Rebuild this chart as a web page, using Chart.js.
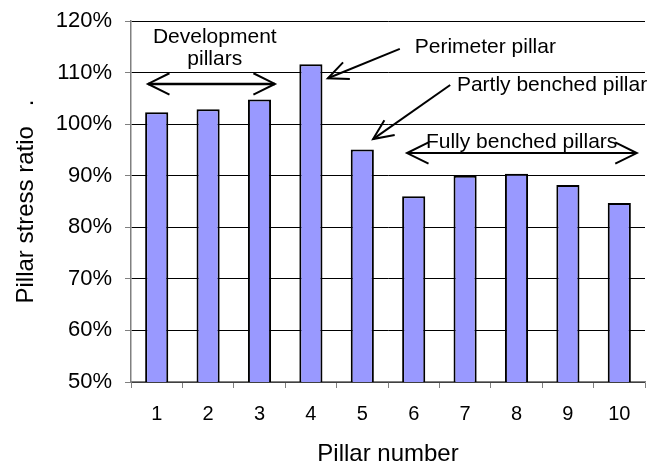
<!DOCTYPE html>
<html>
<head>
<meta charset="utf-8">
<script src="https://cdn.jsdelivr.net/npm/chart.js@4/dist/chart.umd.min.js"></script>
<style>
  html, body { margin: 0; padding: 0; background: #ffffff; }
  #wrap { width: 663px; height: 469px; position: relative; }
</style>
</head>
<body>
<div id="wrap"><canvas id="c" width="663" height="469"></canvas></div>
<script>
// ---- data ----
const categories = ['1', '2', '3', '4', '5', '6', '7', '8', '9', '10'];
const stressRatio = [102.3, 102.9, 104.8, 111.6, 95.1, 86.0, 90.0, 90.4, 88.2, 84.7];
const yTicks = [50, 60, 70, 80, 90, 100, 110, 120];
const xTitle = 'Pillar number';
const yTitle = 'Pillar stress ratio   .';

// ---- annotations (in data units: category index, percent) ----
const annoFont = '21px "Liberation Sans", Arial, sans-serif';
const annotations = [
  { type: 'text', lines: ['Development', 'pillars'], x: 1.13, y: 116.8, lineStep: 4.3, align: 'center' },
  { type: 'double', x1: -0.17, x2: 2.30, y: 107.8, w: 2.5 },
  { type: 'text', lines: ['Perimeter pillar'], x: 5.02, y: 115.0, align: 'left' },
  { type: 'arrow', x1: 4.73, y1: 114.6, x2: 3.33, y2: 108.9 },
  { type: 'text', lines: ['Partly benched pillar'], x: 5.84, y: 107.6, align: 'left' },
  { type: 'arrow', x1: 5.71, y1: 107.6, x2: 4.21, y2: 97.1 },
  { type: 'text', lines: ['Fully benched pillars'], x: 7.10, y: 96.5, align: 'center' },
  { type: 'double', x1: 4.87, x2: 9.34, y: 94.4, w: 2 }
];

function head(ctx, tx, ty, fx, fy, len, ang) {
  const a = Math.atan2(fy - ty, fx - tx);
  ctx.beginPath();
  ctx.moveTo(tx + len * Math.cos(a + ang), ty + len * Math.sin(a + ang));
  ctx.lineTo(tx, ty);
  ctx.lineTo(tx + len * Math.cos(a - ang), ty + len * Math.sin(a - ang));
  ctx.stroke();
}

const annoPlugin = {
  id: 'anno',
  afterDraw(chart) {
    const ctx = chart.ctx;
    const xs = chart.scales.x, ys = chart.scales.y;
    ctx.save();
    ctx.strokeStyle = '#000';
    ctx.fillStyle = '#000';
    ctx.lineCap = 'butt';
    ctx.font = annoFont;
    ctx.textBaseline = 'middle';
    annotations.forEach(a => {
      ctx.lineWidth = a.w || 2;
      if (a.type === 'text') {
        ctx.textAlign = a.align;
        a.lines.forEach((t, k) => {
          ctx.fillText(t, xs.getPixelForValue(a.x), ys.getPixelForValue(a.y - k * (a.lineStep || 0)));
        });
      } else if (a.type === 'double') {
        const x1 = xs.getPixelForValue(a.x1), x2 = xs.getPixelForValue(a.x2), y = ys.getPixelForValue(a.y);
        ctx.beginPath(); ctx.moveTo(x1, y); ctx.lineTo(x2, y); ctx.stroke();
        ctx.lineWidth = 2;
        head(ctx, x1, y, x2, y, 24, 0.46);
        head(ctx, x2, y, x1, y, 24, 0.46);
      } else if (a.type === 'arrow') {
        const x1 = xs.getPixelForValue(a.x1), y1 = ys.getPixelForValue(a.y1);
        const x2 = xs.getPixelForValue(a.x2), y2 = ys.getPixelForValue(a.y2);
        ctx.beginPath(); ctx.moveTo(x1, y1); ctx.lineTo(x2, y2); ctx.stroke();
        head(ctx, x2, y2, x1, y1, 22, 0.42);
      }
    });
    ctx.restore();
  }
};

const fam = '"Liberation Sans", Arial, sans-serif';
const xTickFont = { family: fam, size: 20 };
const yTickFont = { family: fam, size: 22 };
const titleFont = { family: fam, size: 24 };

new Chart(document.getElementById('c'), {
  type: 'bar',
  data: {
    labels: categories,
    datasets: [{
      data: stressRatio,
      backgroundColor: '#9999FF',
      borderColor: '#000000',
      borderWidth: 2,
      borderSkipped: false,
      categoryPercentage: 1.0,
      barPercentage: 0.45
    }]
  },
  options: {
    responsive: false,
    animation: false,
    devicePixelRatio: 1,
    layout: { padding: { top: 21, right: 18, bottom: 0, left: 0 } },
    plugins: { legend: { display: false }, tooltip: { enabled: false } },
    scales: {
      x: {
        grid: { drawOnChartArea: false, tickLength: 6, tickColor: '#808080', offset: true },
        border: { color: '#808080', width: 1.5 },
        ticks: { color: '#000', font: xTickFont, padding: 14, maxRotation: 0 },
        title: { display: true, text: xTitle, color: '#000', font: titleFont, padding: { top: 0, bottom: 0 } },
        afterFit(s) { s.height = 87; s.paddingLeft = 0; s.paddingRight = 0; }
      },
      y: {
        min: 50, max: 120,
        afterBuildTicks(s) { s.ticks = yTicks.map(v => ({ value: v })); },
        grid: { color: '#000000', lineWidth: 1, tickLength: 6, tickColor: '#808080' },
        border: { color: '#808080', width: 1.5 },
        ticks: { color: '#000', font: yTickFont, padding: 13, callback: v => v + '%' },
        title: { display: true, text: yTitle, color: '#000', font: titleFont, padding: { top: 12, bottom: 0 } },
        afterFit(s) { s.width = 131; s.paddingTop = 0; s.paddingBottom = 0; }
      }
    }
  },
  plugins: [annoPlugin]
});
</script>
</body>
</html>
